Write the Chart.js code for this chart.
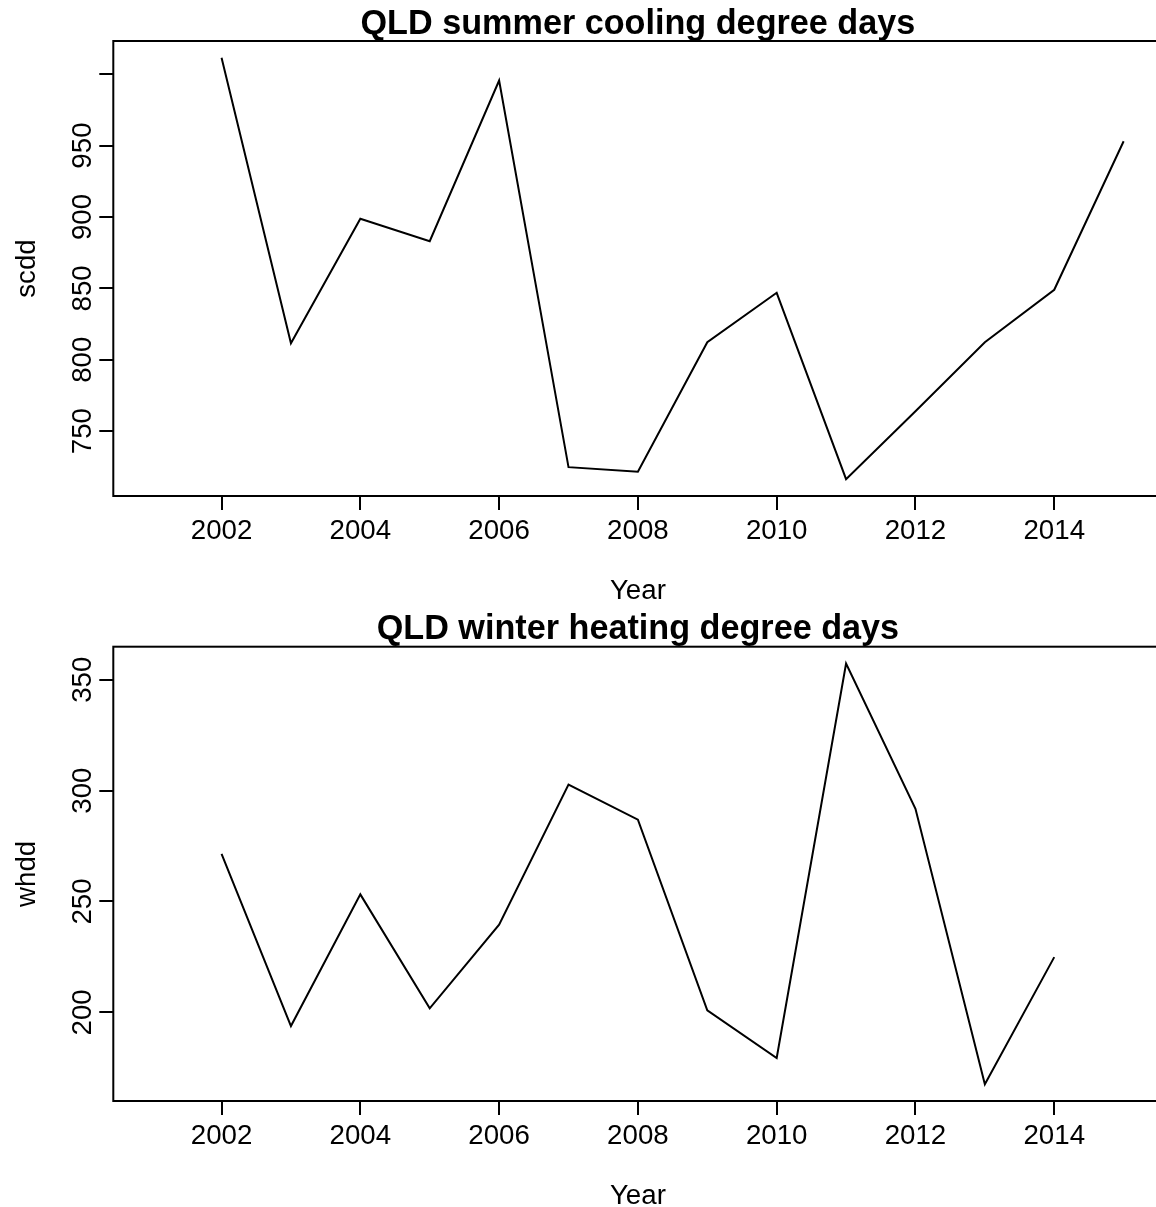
<!DOCTYPE html>
<html><head><meta charset="utf-8">
<script src="https://cdn.jsdelivr.net/npm/chart.js@4"></script>
<style>
html,body{margin:0;padding:0;background:#fff;overflow:hidden;width:1156px;height:1207px;position:relative}
canvas{position:absolute;left:0}
</style></head><body>
<canvas id="c1" width="1200" height="603" style="top:0px"></canvas>
<canvas id="c2" width="1200" height="604" style="top:603px"></canvas>
<script>
// ---- data ----
const scddYears = [2002, 2003, 2004, 2005, 2006, 2007, 2008, 2009, 2010, 2011, 2012, 2013, 2014, 2015];
const scdd = [1011.4, 811.6, 898.7, 883.0, 995.5, 724.8, 721.6, 812.3, 846.9, 716.4, 764.0, 812.3, 849.0, 953.0];
const whddYears = [2002, 2003, 2004, 2005, 2006, 2007, 2008, 2009, 2010, 2011, 2012, 2013, 2014];
const whdd = [271.5, 193.8, 253.2, 201.8, 239.5, 302.7, 286.9, 200.9, 179.4, 357.3, 291.8, 167.6, 224.9];
const xTicks = [2002, 2004, 2006, 2008, 2010, 2012, 2014];
const xTickLabels = ['2002', '2004', '2006', '2008', '2010', '2012', '2014'];
const scddTicks = [750, 800, 850, 900, 950, 1000];
const scddTickLabels = ['750', '800', '850', '900', '950', ''];
const whddTicks = [200, 250, 300, 350];
const whddTickLabels = ['200', '250', '300', '350'];
const titles = ['QLD summer cooling degree days', 'QLD winter heating degree days'];
const yAxisLabels = ['scdd', 'whdd'];
const xAxisLabel = 'Year';
const yearSpan = [2001, 2015];

const FONT = '"Liberation Sans", Arial, Helvetica, sans-serif';
const TICK_PX = 27.7;

function ext(lo, hi) { const d = (hi - lo) * 0.04; return [lo - d, hi + d]; }

const rPlot = {
  id: 'rPlot',
  afterDraw(chart, args, o) {
    const ctx = chart.ctx, a = chart.chartArea, y = chart.scales.y;
    ctx.save();
    ctx.strokeStyle = '#000'; ctx.lineWidth = 2;
    ctx.strokeRect(a.left, a.top, a.right - a.left, a.bottom - a.top);
    ctx.fillStyle = '#000';
    ctx.font = TICK_PX + 'px ' + FONT;
    ctx.textAlign = 'center'; ctx.textBaseline = 'alphabetic';
    o.yTicks.forEach((v, i) => {
      const lab = o.yTickLabels[i];
      if (!lab) return;
      const py = y.getPixelForValue(v);
      ctx.save(); ctx.translate(91, py); ctx.rotate(-Math.PI / 2); ctx.fillText(lab, 0, 0); ctx.restore();
    });
    const cx = (a.left + a.right) / 2, cy = (a.top + a.bottom) / 2;
    ctx.save(); ctx.translate(35, cy); ctx.rotate(-Math.PI / 2); ctx.fillText(o.ylab, 0, 0); ctx.restore();
    ctx.fillText(o.xlab, cx, a.bottom + 103);
    ctx.font = 'bold 34.2px ' + FONT;
    ctx.fillText(o.title, cx, a.top - 7.5);
    ctx.restore();
  }
};

function makeChart(id, xs, ys, yTicks, yTickLabels, title, ylab, areaTop, areaBottom, canvasH) {
  const xr = ext(yearSpan[0], yearSpan[1]);
  const yr = ext(Math.min(...ys), Math.max(...ys));
  const areaLeft = 113.3, areaRight = 1162.5, canvasW = 1200;
  return new Chart(document.getElementById(id), {
    type: 'line',
    data: {
      datasets: [{
        data: xs.map((x, i) => ({ x: x, y: ys[i] })),
        borderColor: '#000', borderWidth: 2, pointRadius: 0, tension: 0, fill: false
      }]
    },
    plugins: [rPlot],
    options: {
      responsive: false, animation: false, devicePixelRatio: 1,
      layout: { padding: { top: areaTop, left: 0, right: canvasW - areaRight, bottom: 0 } },
      plugins: {
        legend: { display: false }, title: { display: false }, tooltip: { enabled: false },
        rPlot: { yTicks: yTicks, yTickLabels: yTickLabels, title: title, ylab: ylab, xlab: xAxisLabel }
      },
      scales: {
        x: {
          type: 'linear', min: xr[0], max: xr[1],
          afterBuildTicks: (s) => { s.ticks = xTicks.map(v => ({ value: v })); },
          afterFit: (s) => { s.height = canvasH - areaBottom; },
          border: { display: false },
          grid: { drawOnChartArea: false, drawTicks: true, tickLength: 14, color: '#000', lineWidth: 2 },
          ticks: {
            autoSkip: false, maxRotation: 0, minRotation: 0, padding: 5, color: '#000',
            font: { family: FONT, size: TICK_PX },
            callback: (v, i) => xTickLabels[i]
          }
        },
        y: {
          type: 'linear', min: yr[0], max: yr[1],
          afterBuildTicks: (s) => { s.ticks = yTicks.map(v => ({ value: v })); },
          afterFit: (s) => { s.width = areaLeft; },
          border: { display: false },
          grid: { drawOnChartArea: false, drawTicks: true, tickLength: 14, color: '#000', lineWidth: 2 },
          ticks: { display: false }
        }
      }
    }
  });
}

makeChart('c1', scddYears, scdd, scddTicks, scddTickLabels, titles[0], yAxisLabels[0], 41, 496, 603);
makeChart('c2', whddYears, whdd, whddTicks, whddTickLabels, titles[1], yAxisLabels[1], 43.7, 498, 604);
</script>
</body></html>
